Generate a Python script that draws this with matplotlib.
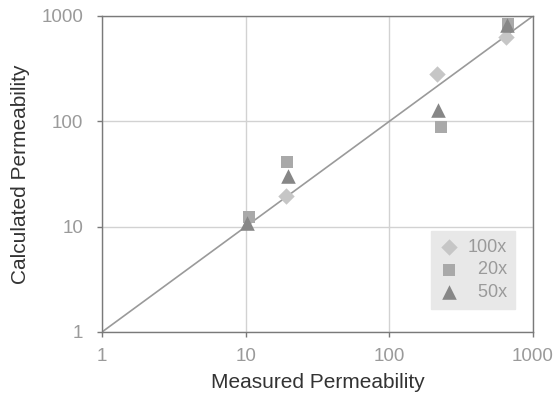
import matplotlib
matplotlib.use('Agg')
import matplotlib.pyplot as plt

# permeability data for the three magnifications
meas_100x = [19.2, 216, 648]
calc_100x = [19.5, 282, 629]

meas_20x = [10.6, 19.5, 230, 669]
calc_20x = [12.3, 41.4, 88.5, 841]

meas_50x = [10.2, 19.8, 218, 660]
calc_50x = [10.8, 30.3, 128, 829]

ticks = [1, 10, 100, 1000]
tick_labels = ['1', '10', '100', '1000']

plt.rcParams['font.family'] = ['Liberation Sans', 'DejaVu Sans']

fig = plt.figure(figsize=(5.58, 3.99), dpi=100)
ax = fig.add_axes([102 / 558, 1 - 332 / 399, 431 / 558, 316 / 399])

ax.set_xscale('log')
ax.set_yscale('log')
ax.set_xlim(1, 1000)
ax.set_ylim(1, 1000)

ax.grid(True, which='major', color='#d2d2d2', linewidth=1.0)
ax.set_axisbelow(True)

# 1:1 line
ax.plot([1, 1000], [1, 1000], color='#9a9a9a', linewidth=1.2, zorder=2)

ax.scatter(meas_100x, calc_100x, marker='D', s=70, color='#c6c6c6',
           label='100x', zorder=3, linewidths=0)
ax.scatter(meas_20x, calc_20x, marker='s', s=75, color='#a9a9a9',
           label='\u200720x', zorder=3, linewidths=0)
ax.scatter(meas_50x, calc_50x, marker='^', s=110, color='#878787',
           label='\u200750x', zorder=4, linewidths=0)

ax.set_xticks(ticks)
ax.set_xticklabels(tick_labels)
ax.set_yticks(ticks)
ax.set_yticklabels(tick_labels)
ax.minorticks_off()
ax.tick_params(which='major', direction='out', length=3.6, width=1,
               color='#7a7a7a', labelcolor='#9a9a9a', labelsize=13.5)
ax.tick_params(axis='y', pad=10)
ax.tick_params(axis='x', pad=8)

for side in ['left', 'bottom', 'top', 'right']:
    ax.spines[side].set_color('#7a7a7a')
    ax.spines[side].set_linewidth(1.0)

ax.set_xlabel('Measured Permeability', fontsize=15, color='#333333', labelpad=6)
ax.set_ylabel('Calculated Permeability', fontsize=15, color='#333333', labelpad=8)

leg = ax.legend(loc='lower right', bbox_to_anchor=(0.958, 0.073), frameon=True,
                fancybox=False, fontsize=13, labelcolor='#9a9a9a',
                handletextpad=0.4, borderpad=0.45, labelspacing=0.3,
                borderaxespad=0, handlelength=1.2, scatterpoints=1)
leg.get_frame().set_facecolor('#e8e8e8')
leg.get_frame().set_edgecolor('#e8e8e8')
leg.get_frame().set_alpha(1)

fig.savefig('out.png', dpi=100)
